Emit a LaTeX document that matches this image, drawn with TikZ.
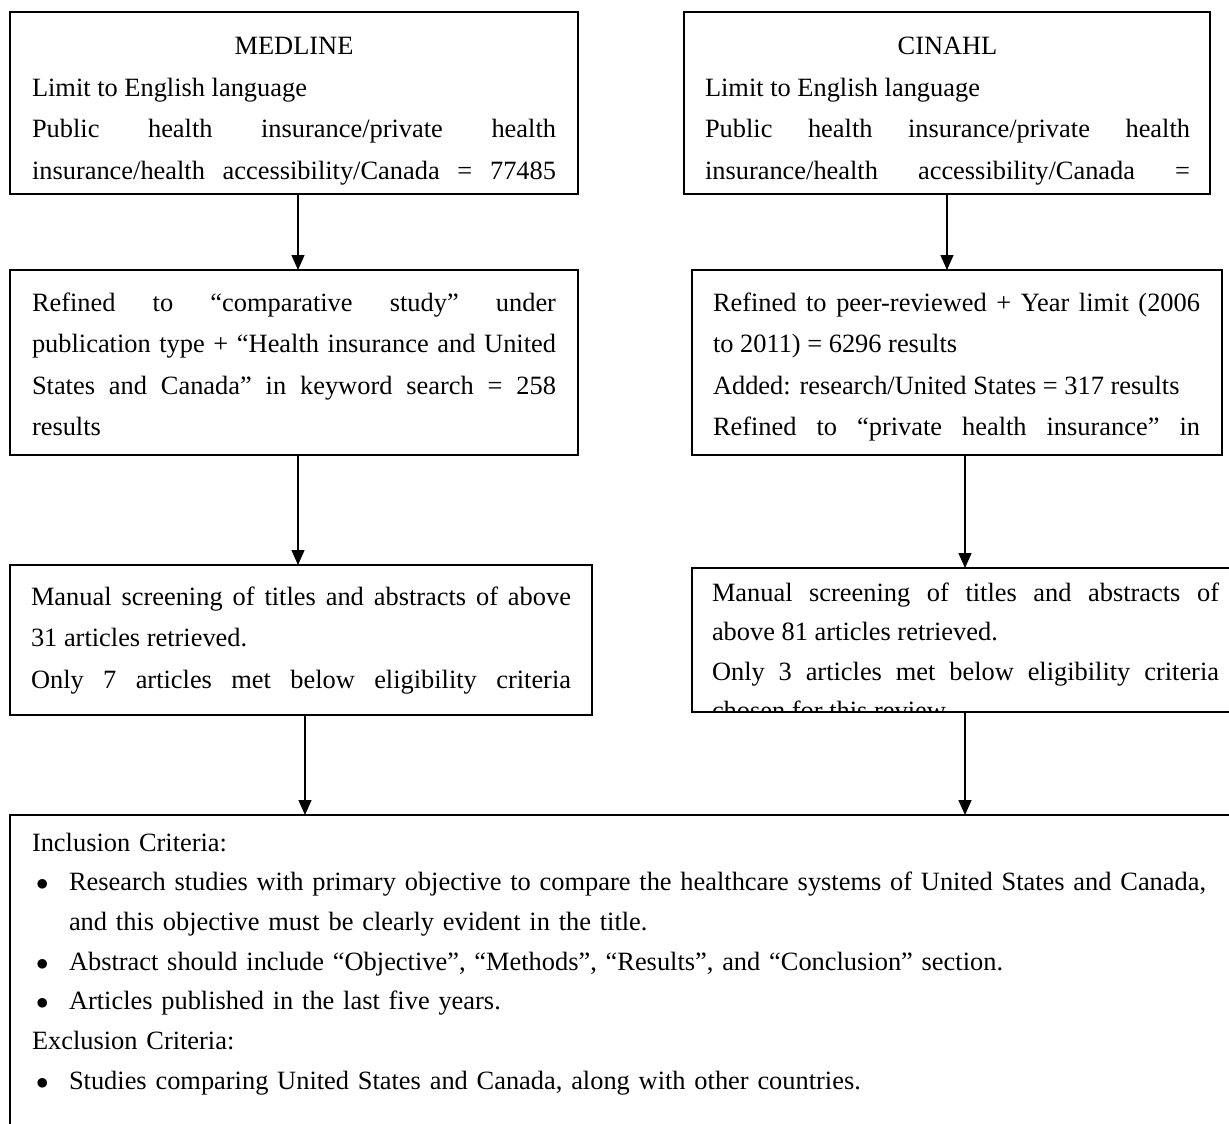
\documentclass[tikz,border=0pt]{standalone}
\usepackage{fontspec}
\setmainfont{Liberation Serif}
\usetikzlibrary{arrows.meta,calc}
\tikzset{
  box/.style={draw, line width=1.4pt, inner sep=0pt, outer sep=0pt, anchor=north west},
  txt/.style={anchor=base west, inner sep=0pt, outer sep=0pt, align=justify,
    font=\fontsize{26.4}{41.5}\selectfont},
  ltxt/.style={anchor=base west, inner sep=0pt, outer sep=0pt, align=left,
    font=\fontsize{26.4}{39.7}\selectfont},
  arr/.style={line width=1.4pt, -{Triangle[length=15pt,width=13pt]}},
}
\newcommand{\fullline}{{\parfillskip=0pt\par}}
\newcommand{\bul}{\makebox[37pt][l]{\hspace{4pt}$\bullet$}}
\begin{document}
\begin{tikzpicture}[x=1pt,y=-1pt]
\useasboundingbox (0,0) rectangle (1229,1124);
% boxes
\node[box, minimum width=568pt, minimum height=182pt] (b1) at (10,12) {};
\node[box, minimum width=526pt, minimum height=182pt] (b2) at (684,12) {};
\node[box, minimum width=568pt, minimum height=185pt] (b3) at (10,270) {};
\node[box, minimum width=530pt, minimum height=185pt] (b4) at (692,270) {};
\node[box, minimum width=582pt, minimum height=150pt] (b5) at (10,565) {};
\node[box, minimum width=560pt, minimum height=144pt] (b6) at (692,568) {};
\node[box, minimum width=1240pt, minimum height=330pt] (b7) at (10,815) {};
% texts
\begin{scope}
\clip (b1.north west) rectangle (b1.south east);
\node[txt, text width=524pt] (t1) at (32,55) {\makebox[\linewidth]{MEDLINE}\par
Limit to English language\par
Public health insurance/private health\linebreak
insurance/health accessibility/Canada = 77485\fullline};
\end{scope}
\begin{scope}
\clip (b2.north west) rectangle (b2.south east);
\node[txt, text width=485pt] (t2) at (705,55) {\makebox[\linewidth]{CINAHL}\par
Limit to English language\par
Public health insurance/private health\linebreak
insurance/health accessibility/Canada =\fullline};
\end{scope}
\begin{scope}
\clip (b3.north west) rectangle (b3.south east);
\node[txt, text width=524pt] (t3) at (32,311) {Refined to “comparative study” under\linebreak
publication type + “Health insurance and United\linebreak
States and Canada” in keyword search = 258\linebreak
results\par};
\end{scope}
\begin{scope}
\clip (b4.north west) rectangle (b4.south east);
\node[txt, text width=487pt] (t4) at (713,311) {Refined to peer-reviewed + Year limit (2006\linebreak
to 2011) = 6296 results\par
Added: research/United States = 317 results\par
Refined to “private health insurance” in\fullline};
\end{scope}
\begin{scope}
\clip (b5.north west) rectangle (b5.south east);
\node[txt, text width=540pt] (t5) at (31,605) {Manual screening of titles and abstracts of above\linebreak
31 articles retrieved.\par
Only 7 articles met below eligibility criteria\fullline};
\end{scope}
\begin{scope}
\clip (b6.north west) rectangle (b6.south east);
\node[txt, text width=507pt, font=\fontsize{26.4}{39.5}\selectfont] (t6) at (712,601) {Manual screening of titles and abstracts of\linebreak
above 81 articles retrieved.\par
Only 3 articles met below eligibility criteria\linebreak
chosen for this review.\par};
\end{scope}
\node[ltxt, text width=1180pt] (t7) at (32,851) {Inclusion Criteria:\par
\bul Research studies with primary objective to compare the healthcare systems of United States and Canada,\par
\hspace*{37pt}and this objective must be clearly evident in the title.\par
\bul Abstract should include “Objective”, “Methods”, “Results”, and “Conclusion” section.\par
\bul Articles published in the last five years.\par
Exclusion Criteria:\par
\bul Studies comparing United States and Canada, along with other countries.\par};
% arrows
\coordinate (x1) at (298,0);
\coordinate (x2) at (947,0);
\coordinate (x3) at (298,0);
\coordinate (x4) at (965,0);
\coordinate (x5) at (305,0);
\coordinate (x6) at (965,0);
\draw[arr] (b1.south -| x1) -- (b3.north -| x1);
\draw[arr] (b2.south -| x2) -- (b4.north -| x2);
\draw[arr] (b3.south -| x3) -- (b5.north -| x3);
\draw[arr] (b4.south -| x4) -- (b6.north -| x4);
\draw[arr] (b5.south -| x5) -- (b7.north -| x5);
\draw[arr] (b6.south -| x6) -- (b7.north -| x6);
\end{tikzpicture}
\end{document}
